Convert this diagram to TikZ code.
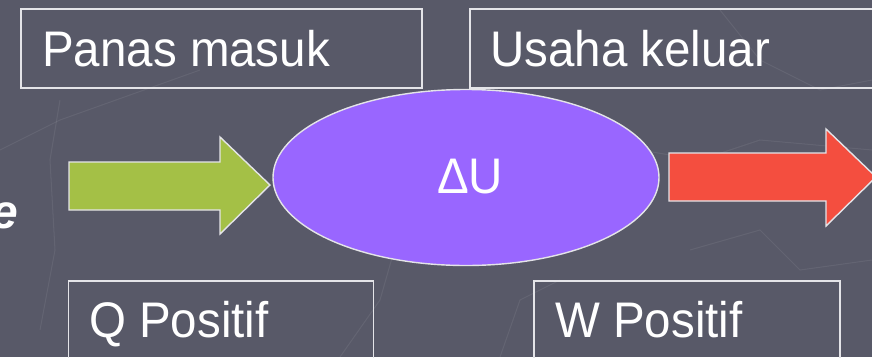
\documentclass[tikz,border=0pt]{standalone}
\usepackage{fontspec}
\setmainfont{Liberation Sans}
\definecolor{bg}{RGB}{88,89,104}
\definecolor{edge}{RGB}{228,228,232}
\definecolor{violet}{RGB}{153,102,255}
\definecolor{olive}{RGB}{164,192,70}
\definecolor{tomato}{RGB}{244,78,63}
\newcommand{\bigtext}[1]{\scalebox{0.95}[1]{#1}}
\tikzset{
  box/.style={draw=edge, line width=1.4pt, rectangle, inner sep=0pt},
  label/.style={text=white, font=\fontsize{50}{54}\selectfont, inner sep=0pt, anchor=base west},
  shapeline/.style={draw=edge, line width=1.4pt, line join=miter},
  faint/.style={draw=white, opacity=0.07, line width=1pt}
}
\begin{document}
\begin{tikzpicture}[x=1pt,y=-1pt]
\useasboundingbox (0,0) rectangle (872,357);
\fill[bg] (0,0) rectangle (872,357);
% faint background texture
\draw[faint] (0,150) -- (60,120) -- (130,95) -- (200,70);
\draw[faint] (40,330) -- (55,250) -- (50,160) -- (60,100);
\draw[faint] (560,170) -- (640,150) -- (700,160) -- (760,140) -- (872,150);
\draw[faint] (690,250) -- (760,230) -- (800,270) -- (872,260);
\draw[faint] (340,357) -- (380,300) -- (400,230);
\draw[faint] (500,357) -- (520,300) -- (560,280);
\draw[faint] (720,10) -- (760,60) -- (820,90) -- (872,80);

% boxes
\node[box, minimum width=401pt, minimum height=79pt] (pmbox) at (221.5,48.5) {};
\node[label] (pm) at (42,66) {\bigtext{Panas masuk}};
\node[box, minimum width=410pt, minimum height=79pt] (ukbox) at (675,48.5) {};
\node[label] (uk) at (490,66) {\bigtext{Usaha keluar}};
\node[box, minimum width=305pt, minimum height=100pt] (qbox) at (221,331) {};
\node[label] (q) at (89,337) {\bigtext{Q Positif}};
\node[box, minimum width=306pt, minimum height=100pt] (wbox) at (687,331) {};
\node[label] (w) at (555,337) {\bigtext{W Positif}};

% arrows
\draw[shapeline, fill=olive] (69,162) -- (220,162) -- (220,137) -- (270,185) -- (220,234) -- (220,210) -- (69,210) -- cycle;
\draw[shapeline, fill=tomato] (669,153) -- (826,153) -- (826,129) -- (876,177) -- (826,226) -- (826,201) -- (669,201) -- cycle;

% ellipse
\draw[shapeline, fill=violet] (466,177.5) ellipse [x radius=193pt, y radius=88pt];
\node[label] (du) at (437,193) {\bigtext{ΔU}};

% partial letter
\node[text=white, font=\fontsize{48}{52}\selectfont\bfseries\itshape, inner sep=0pt, anchor=base west] (e) at (-9,228) {e};
\end{tikzpicture}
\end{document}
